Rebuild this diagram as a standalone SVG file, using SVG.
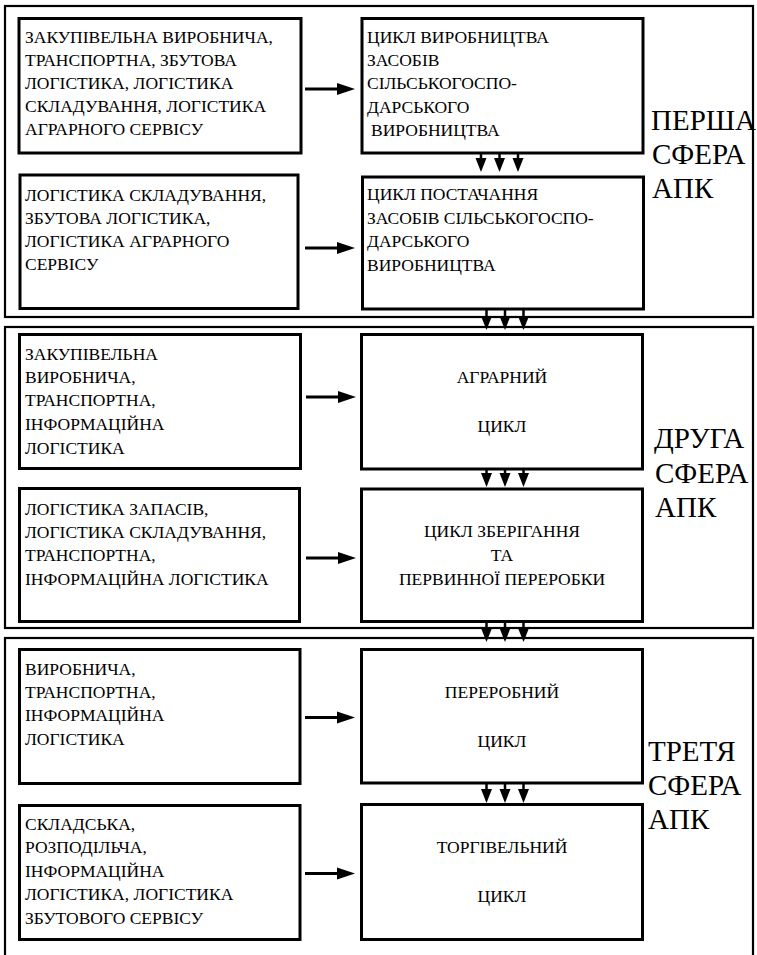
<svg xmlns="http://www.w3.org/2000/svg" width="757" height="955" viewBox="0 0 757 955">
<defs>
<marker id="ah" markerUnits="userSpaceOnUse" markerWidth="20" markerHeight="14" refX="3" refY="6" orient="auto" overflow="visible">
<path d="M0,0 L18,6 L0,12 z" fill="#000"/>
</marker>
<marker id="av" markerUnits="userSpaceOnUse" markerWidth="16" markerHeight="12" refX="2" refY="5.5" orient="auto" overflow="visible">
<path d="M0,0 L14,5.5 L0,11 z" fill="#000"/>
</marker>
</defs>

<g id="sphere1">
<rect x="5" y="6" width="748" height="311" fill="none" stroke="#000" stroke-width="2.2"/>
<text style="font-family:'Liberation Serif',serif;font-size:29px" x="651" y="130">ПЕРША</text>
<text style="font-family:'Liberation Serif',serif;font-size:29px" x="652" y="164">СФЕРА</text>
<text style="font-family:'Liberation Serif',serif;font-size:29px" x="652" y="198">АПК</text>
</g>
<g id="sphere2">
<rect x="5" y="327" width="748" height="301" fill="none" stroke="#000" stroke-width="2.2"/>
<text style="font-family:'Liberation Serif',serif;font-size:29px" x="654" y="448">ДРУГА</text>
<text style="font-family:'Liberation Serif',serif;font-size:29px" x="655" y="483">СФЕРА</text>
<text style="font-family:'Liberation Serif',serif;font-size:29px" x="655" y="517">АПК</text>
</g>
<g id="sphere3">
<rect x="5" y="638" width="748" height="340" fill="none" stroke="#000" stroke-width="2.2"/>
<text style="font-family:'Liberation Serif',serif;font-size:29px" x="648" y="761">ТРЕТЯ</text>
<text style="font-family:'Liberation Serif',serif;font-size:29px" x="648" y="795">СФЕРА</text>
<text style="font-family:'Liberation Serif',serif;font-size:29px" x="648" y="829">АПК</text>
</g>

<g id="l1">
<rect x="19" y="18.5" width="282" height="134.5" fill="#fff" stroke="#000" stroke-width="3"/>
<text style="font-family:'Liberation Serif',serif;font-size:17.5px" x="25" y="43">ЗАКУПІВЕЛЬНА ВИРОБНИЧА,</text>
<text style="font-family:'Liberation Serif',serif;font-size:17.5px" x="25" y="66">ТРАНСПОРТНА, ЗБУТОВА</text>
<text style="font-family:'Liberation Serif',serif;font-size:17.5px" x="25" y="89">ЛОГІСТИКА, ЛОГІСТИКА</text>
<text style="font-family:'Liberation Serif',serif;font-size:17.5px" x="25" y="112">СКЛАДУВАННЯ, ЛОГІСТИКА</text>
<text style="font-family:'Liberation Serif',serif;font-size:17.5px" x="25" y="135">АГРАРНОГО СЕРВІСУ</text>
</g>
<g id="l2">
<rect x="20" y="175" width="278" height="133.5" fill="#fff" stroke="#000" stroke-width="3"/>
<text style="font-family:'Liberation Serif',serif;font-size:17.5px" x="25" y="201">ЛОГІСТИКА СКЛАДУВАННЯ,</text>
<text style="font-family:'Liberation Serif',serif;font-size:17.5px" x="25" y="224">ЗБУТОВА ЛОГІСТИКА,</text>
<text style="font-family:'Liberation Serif',serif;font-size:17.5px" x="25" y="247">ЛОГІСТИКА АГРАРНОГО</text>
<text style="font-family:'Liberation Serif',serif;font-size:17.5px" x="25" y="270">СЕРВІСУ</text>
</g>
<g id="r1">
<rect x="362" y="18.5" width="281" height="134.5" fill="#fff" stroke="#000" stroke-width="3"/>
<text style="font-family:'Liberation Serif',serif;font-size:17.5px" x="367" y="43">ЦИКЛ ВИРОБНИЦТВА</text>
<text style="font-family:'Liberation Serif',serif;font-size:17.5px" x="367" y="66">ЗАСОБІВ</text>
<text style="font-family:'Liberation Serif',serif;font-size:17.5px" x="367" y="89">СІЛЬСЬКОГОСПО-</text>
<text style="font-family:'Liberation Serif',serif;font-size:17.5px" x="367" y="113">ДАРСЬКОГО</text>
<text style="font-family:'Liberation Serif',serif;font-size:17.5px" x="371" y="136">ВИРОБНИЦТВА</text>
</g>
<g id="r2">
<rect x="362.5" y="177" width="281" height="132" fill="#fff" stroke="#000" stroke-width="3"/>
<text style="font-family:'Liberation Serif',serif;font-size:17.5px" x="367" y="200">ЦИКЛ ПОСТАЧАННЯ</text>
<text style="font-family:'Liberation Serif',serif;font-size:17.5px" x="367" y="223.5">ЗАСОБІВ СІЛЬСЬКОГОСПО-</text>
<text style="font-family:'Liberation Serif',serif;font-size:17.5px" x="367" y="247">ДАРСЬКОГО</text>
<text style="font-family:'Liberation Serif',serif;font-size:17.5px" x="367" y="270.5">ВИРОБНИЦТВА</text>
</g>

<g id="l3">
<rect x="19.5" y="334.5" width="281" height="134" fill="#fff" stroke="#000" stroke-width="3"/>
<text style="font-family:'Liberation Serif',serif;font-size:17.5px" x="25" y="360">ЗАКУПІВЕЛЬНА</text>
<text style="font-family:'Liberation Serif',serif;font-size:17.5px" x="25" y="383">ВИРОБНИЧА,</text>
<text style="font-family:'Liberation Serif',serif;font-size:17.5px" x="25" y="406">ТРАНСПОРТНА,</text>
<text style="font-family:'Liberation Serif',serif;font-size:17.5px" x="25" y="430">ІНФОРМАЦІЙНА</text>
<text style="font-family:'Liberation Serif',serif;font-size:17.5px" x="25" y="454">ЛОГІСТИКА</text>
</g>
<g id="l4">
<rect x="19.5" y="488.5" width="280" height="133" fill="#fff" stroke="#000" stroke-width="3"/>
<text style="font-family:'Liberation Serif',serif;font-size:17.5px" x="25" y="515">ЛОГІСТИКА ЗАПАСІВ,</text>
<text style="font-family:'Liberation Serif',serif;font-size:17.5px" x="25" y="538">ЛОГІСТИКА СКЛАДУВАННЯ,</text>
<text style="font-family:'Liberation Serif',serif;font-size:17.5px" x="25" y="561">ТРАНСПОРТНА,</text>
<text style="font-family:'Liberation Serif',serif;font-size:17.5px" x="25" y="585">ІНФОРМАЦІЙНА ЛОГІСТИКА</text>
</g>
<g id="r3">
<rect x="361.5" y="334.5" width="281" height="134.5" fill="#fff" stroke="#000" stroke-width="3"/>
<text text-anchor="middle" style="font-family:'Liberation Serif',serif;font-size:17.5px" x="502" y="383">АГРАРНИЙ</text>
<text text-anchor="middle" style="font-family:'Liberation Serif',serif;font-size:17.5px" x="502" y="432">ЦИКЛ</text>
</g>
<g id="r4">
<rect x="361.5" y="489" width="281" height="132.5" fill="#fff" stroke="#000" stroke-width="3"/>
<text text-anchor="middle" style="font-family:'Liberation Serif',serif;font-size:17.5px" x="502" y="537">ЦИКЛ ЗБЕРІГАННЯ</text>
<text text-anchor="middle" style="font-family:'Liberation Serif',serif;font-size:17.5px" x="502" y="561">ТА</text>
<text text-anchor="middle" style="font-family:'Liberation Serif',serif;font-size:17.5px" x="502" y="585">ПЕРВИННОЇ ПЕРЕРОБКИ</text>
</g>

<g id="l5">
<rect x="19.5" y="649.5" width="280.5" height="134" fill="#fff" stroke="#000" stroke-width="3"/>
<text style="font-family:'Liberation Serif',serif;font-size:17.5px" x="25" y="675">ВИРОБНИЧА,</text>
<text style="font-family:'Liberation Serif',serif;font-size:17.5px" x="25" y="698">ТРАНСПОРТНА,</text>
<text style="font-family:'Liberation Serif',serif;font-size:17.5px" x="25" y="721">ІНФОРМАЦІЙНА</text>
<text style="font-family:'Liberation Serif',serif;font-size:17.5px" x="25" y="745">ЛОГІСТИКА</text>
</g>
<g id="l6">
<rect x="19.5" y="805.5" width="280.5" height="134" fill="#fff" stroke="#000" stroke-width="3"/>
<text style="font-family:'Liberation Serif',serif;font-size:17.5px" x="25" y="830">СКЛАДСЬКА,</text>
<text style="font-family:'Liberation Serif',serif;font-size:17.5px" x="25" y="853">РОЗПОДІЛЬЧА,</text>
<text style="font-family:'Liberation Serif',serif;font-size:17.5px" x="25" y="877">ІНФОРМАЦІЙНА</text>
<text style="font-family:'Liberation Serif',serif;font-size:17.5px" x="25" y="900">ЛОГІСТИКА, ЛОГІСТИКА</text>
<text style="font-family:'Liberation Serif',serif;font-size:17.5px" x="25" y="924">ЗБУТОВОГО СЕРВІСУ</text>
</g>
<g id="r5">
<rect x="361.5" y="649.5" width="281" height="133.5" fill="#fff" stroke="#000" stroke-width="3"/>
<text text-anchor="middle" style="font-family:'Liberation Serif',serif;font-size:17.5px" x="502" y="698">ПЕРЕРОБНИЙ</text>
<text text-anchor="middle" style="font-family:'Liberation Serif',serif;font-size:17.5px" x="502" y="747">ЦИКЛ</text>
</g>
<g id="r6">
<rect x="361.5" y="804.5" width="281" height="135" fill="#fff" stroke="#000" stroke-width="3"/>
<text text-anchor="middle" style="font-family:'Liberation Serif',serif;font-size:17.5px" x="502" y="853">ТОРГІВЕЛЬНИЙ</text>
<text text-anchor="middle" style="font-family:'Liberation Serif',serif;font-size:17.5px" x="502" y="902">ЦИКЛ</text>
</g>

<g id="connectors" stroke="#000" stroke-width="3">
<line x1="305" y1="89" x2="340" y2="89" marker-end="url(#ah)"/>
<line x1="305" y1="248" x2="340" y2="248" marker-end="url(#ah)"/>
<line x1="306" y1="397" x2="341" y2="397" marker-end="url(#ah)"/>
<line x1="306" y1="558" x2="341" y2="558" marker-end="url(#ah)"/>
<line x1="305" y1="717.5" x2="340" y2="717.5" marker-end="url(#ah)"/>
<line x1="305" y1="873.5" x2="340" y2="873.5" marker-end="url(#ah)"/>
<g stroke-width="2.5">
<line x1="481" y1="154" x2="481" y2="160" marker-end="url(#av)"/>
<line x1="499.5" y1="154" x2="499.5" y2="160" marker-end="url(#av)"/>
<line x1="518" y1="154" x2="518" y2="160" marker-end="url(#av)"/>
<line x1="486.5" y1="310" x2="486.5" y2="318" marker-end="url(#av)"/>
<line x1="505" y1="310" x2="505" y2="318" marker-end="url(#av)"/>
<line x1="523.5" y1="310" x2="523.5" y2="318" marker-end="url(#av)"/>
<line x1="486.5" y1="470" x2="486.5" y2="475" marker-end="url(#av)"/>
<line x1="505" y1="470" x2="505" y2="475" marker-end="url(#av)"/>
<line x1="523.5" y1="470" x2="523.5" y2="475" marker-end="url(#av)"/>
<line x1="486.5" y1="622" x2="486.5" y2="630" marker-end="url(#av)"/>
<line x1="505" y1="622" x2="505" y2="630" marker-end="url(#av)"/>
<line x1="523.5" y1="622" x2="523.5" y2="630" marker-end="url(#av)"/>
<line x1="486.5" y1="784" x2="486.5" y2="791" marker-end="url(#av)"/>
<line x1="505" y1="784" x2="505" y2="791" marker-end="url(#av)"/>
<line x1="523.5" y1="784" x2="523.5" y2="791" marker-end="url(#av)"/>
</g>
</g>
</svg>
